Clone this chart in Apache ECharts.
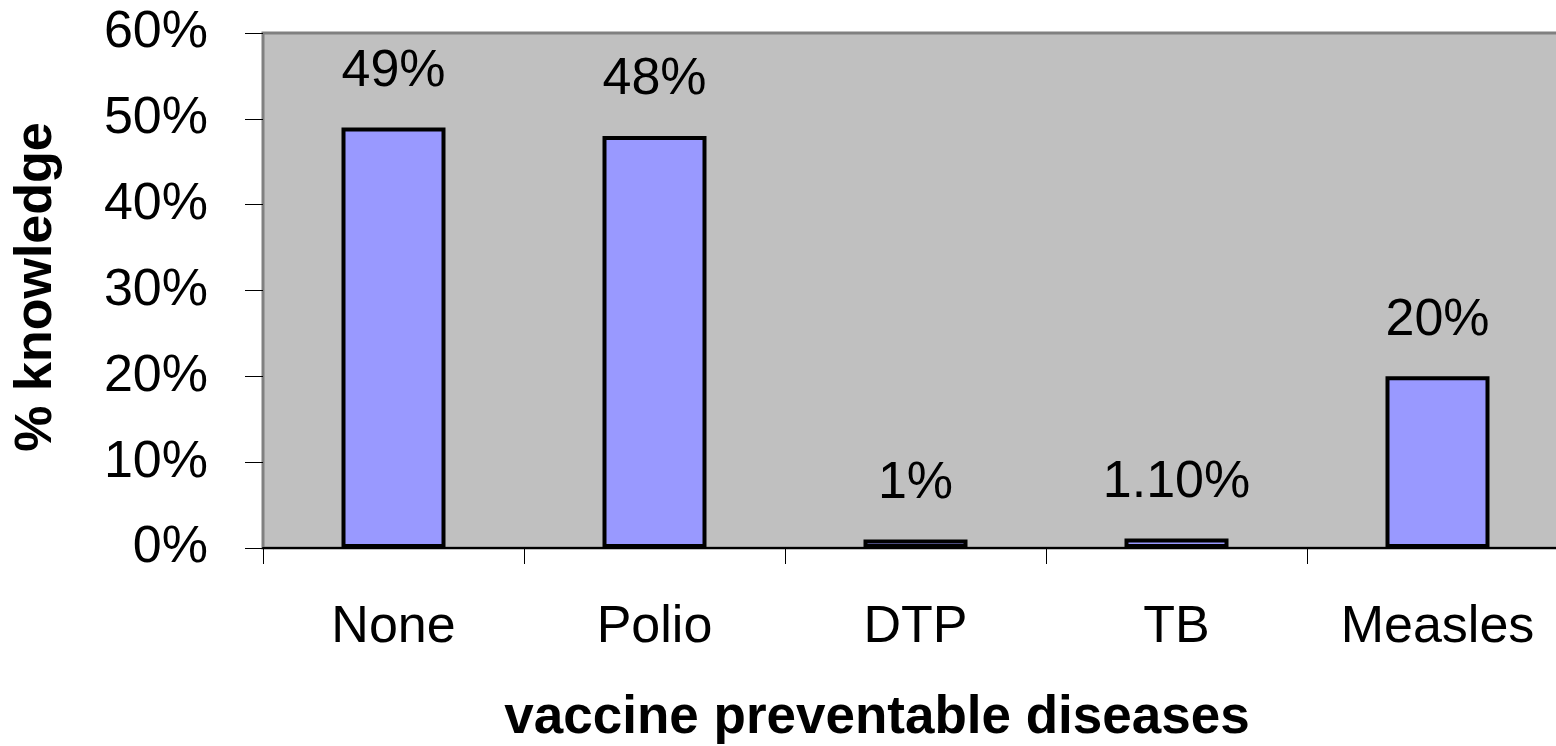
<!DOCTYPE html>
<html>
<head>
<meta charset="utf-8">
<style>
  html, body { margin: 0; padding: 0; background: #ffffff; }
  #chart { width: 1556px; height: 746px; }
</style>
<script src="https://cdn.jsdelivr.net/npm/echarts@6/dist/echarts.min.js"></script>
</head>
<body>
<div id="chart"></div>
<script>
// Knowledge of vaccine preventable diseases (% of respondents)
const categories = ['None', 'Polio', 'DTP', 'TB', 'Measles'];
const knowledge = [49, 48, 1, 1.1, 20];
const valueLabels = ['49%', '48%', '1%', '1.10%', '20%'];
const yTicks = { min: 0, max: 60, step: 10 };
const yTitle = '% knowledge';
const xTitle = 'vaccine preventable diseases';

const FONT = 'Arial, "Liberation Sans", Helvetica, sans-serif';

const chart = echarts.init(document.getElementById('chart'), null, { renderer: 'canvas' });

chart.setOption({
  animation: false,
  backgroundColor: '#ffffff',
  grid: {
    left: 263,
    top: 33,
    width: 1305,
    height: 515,
    show: true,
    backgroundColor: '#c0c0c0',
    borderColor: '#808080',
    borderWidth: 3,
    containLabel: false,
    outerBoundsMode: 'none'
  },
  xAxis: {
    type: 'category',
    data: categories,
    boundaryGap: true,
    axisLine: { show: true, lineStyle: { color: '#000000', width: 2 } },
    axisTick: { show: true, length: 16, alignWithLabel: false, lineStyle: { color: '#000000', width: 1 } },
    axisLabel: { show: true, margin: 54, color: '#000000', fontSize: 52, fontFamily: FONT },
    splitLine: { show: false }
  },
  yAxis: {
    type: 'value',
    min: yTicks.min,
    max: yTicks.max,
    interval: yTicks.step,
    axisLine: { show: false },
    axisTick: { show: true, length: 18, lineStyle: { color: '#000000', width: 1 } },
    axisLabel: { show: true, margin: 55, color: '#000000', fontSize: 52, fontFamily: FONT, formatter: '{value}%' },
    splitLine: { show: false }
  },
  series: [{
    type: 'bar',
    data: knowledge,
    barWidth: 104,
    itemStyle: { color: '#9999ff', borderColor: '#000000', borderWidth: 4 },
    label: {
      show: true,
      position: 'top',
      distance: 30,
      color: '#000000',
      fontSize: 52,
      fontFamily: FONT,
      formatter: (p) => valueLabels[p.dataIndex]
    }
  }],
  graphic: [
    {
      type: 'text',
      x: 37,
      y: 287,
      rotation: Math.PI / 2,
      style: {
        text: yTitle,
        fill: '#000000',
        fontSize: 52,
        fontWeight: 'bold',
        fontFamily: FONT,
        align: 'center',
        verticalAlign: 'middle',
        textAlign: 'center',
        textVerticalAlign: 'middle'
      }
    },
    {
      type: 'text',
      x: 877,
      y: 718,
      style: {
        text: xTitle,
        fill: '#000000',
        fontSize: 53,
        fontWeight: 'bold',
        fontFamily: FONT,
        align: 'center',
        verticalAlign: 'middle',
        textAlign: 'center',
        textVerticalAlign: 'middle'
      }
    }
  ]
});
</script>
</body>
</html>
